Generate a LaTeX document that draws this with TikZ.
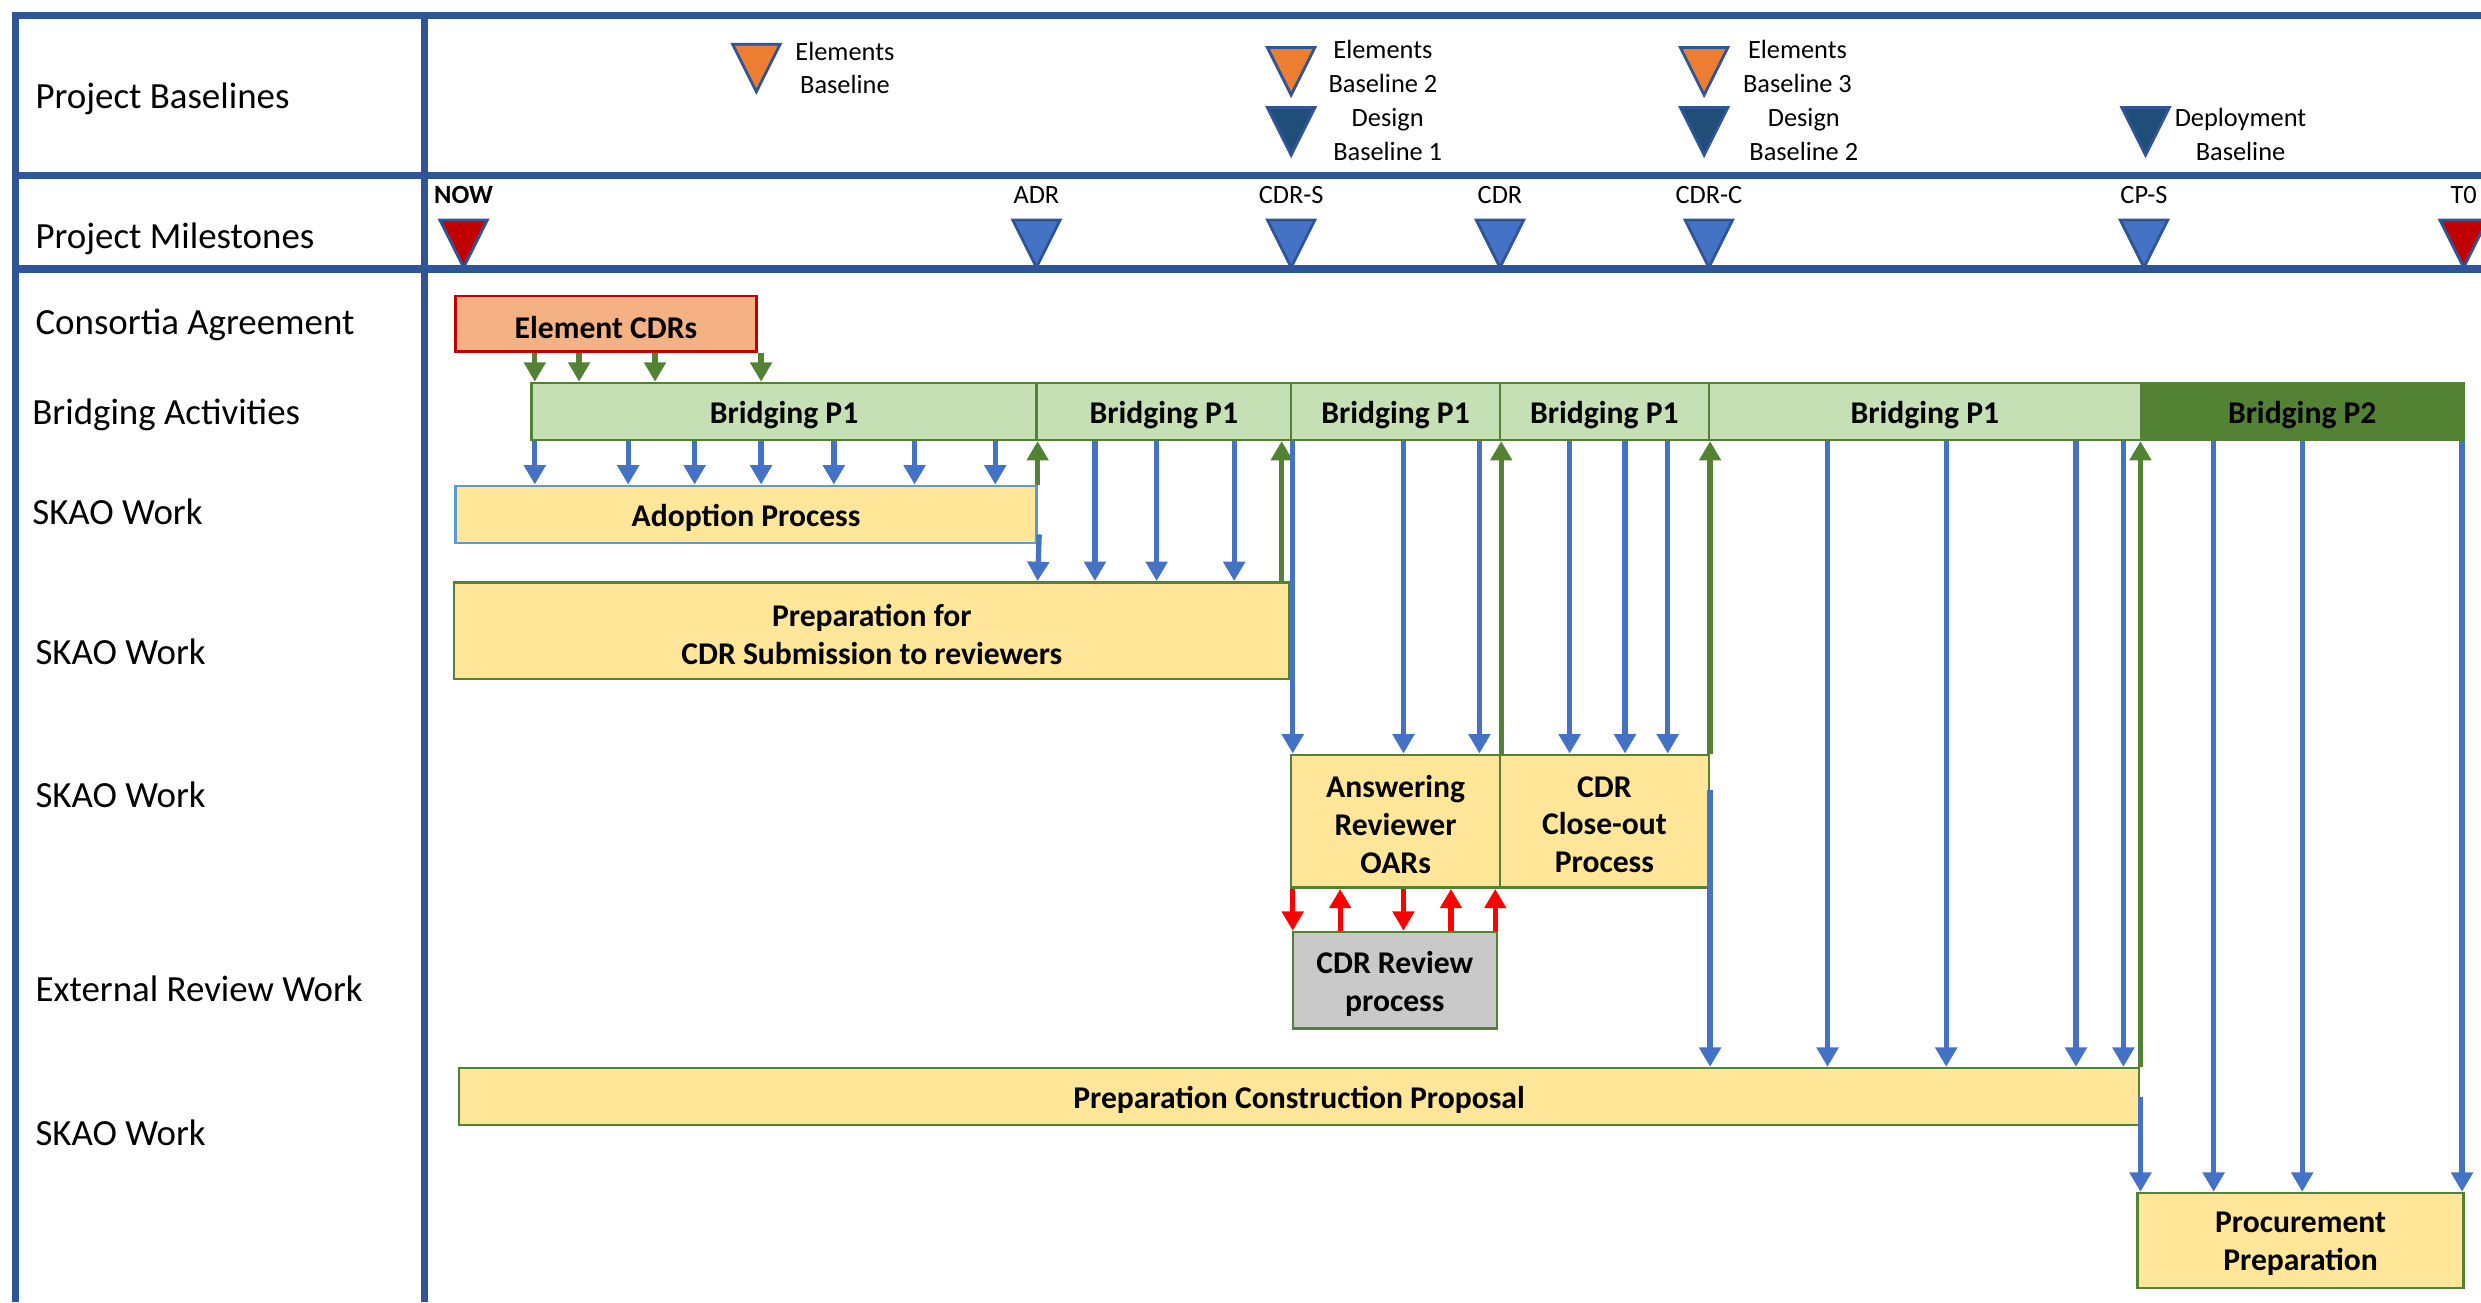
\documentclass[tikz,border=0pt]{standalone}
\usepackage{fontspec}
\setmainfont{Carlito}
\usetikzlibrary{arrows.meta, calc, fit}
\definecolor{gridblue}{HTML}{2F5597}
\definecolor{ecdrfill}{HTML}{F4B183}
\definecolor{ecdrline}{HTML}{C00000}
\definecolor{lgreen}{HTML}{C5E0B4}
\definecolor{dgreen}{HTML}{548235}
\definecolor{boxyel}{HTML}{FFE699}
\definecolor{boxgray}{HTML}{C9C9C9}
\definecolor{adoptline}{HTML}{5B9BD5}
\definecolor{arrblue}{HTML}{4472C4}
\definecolor{arrred}{HTML}{FF0000}
\definecolor{blorange}{HTML}{ED7D31}
\definecolor{bldark}{HTML}{1F4E79}
\definecolor{msred}{HTML}{C00000}
\definecolor{msblue}{HTML}{4472C4}
\tikzset{gridline/.style={gridblue, line width=2pt}}
\tikzset{rowlabel/.style={anchor=west, inner sep=0pt, yshift=-1pt, font=\fontsize{10.5}{12}\selectfont}}
\tikzset{smalltext/.style={inner sep=0pt, align=center, font=\fontsize{7.5}{9.5}\selectfont}}
\tikzset{boxtext/.style={inner sep=0pt, align=center, yshift=-1pt, font=\fontsize{9}{10.8}\selectfont\bfseries}}
\tikzset{box/.style={inner sep=0pt, line width=0.7pt}}
\tikzset{ybox/.style={box, draw=dgreen, fill=boxyel}}
\tikzset{gbox/.style={box, draw=dgreen, fill=lgreen}}
\tikzset{marker/.style={draw=gridblue, line width=0.8pt}}
\tikzset{barr/.style={arrblue, line width=1.5pt, -{Triangle[width=6pt,length=5.5pt]}}}
\tikzset{garr/.style={dgreen, line width=1.5pt, -{Triangle[width=6pt,length=5.5pt]}}}
\tikzset{rarr/.style={arrred, line width=1.5pt, -{Triangle[width=6pt,length=5.5pt]}}}

\begin{document}
\begin{tikzpicture}[x=0.01582cm, y=-0.01582cm]
    \useasboundingbox (0,0) rectangle (1568,823);
    %Grid
    \draw[gridline] (10,823) -- (10,10) -- (1575,10);
    \draw[gridline] (10,111) -- (1575,111);
    \draw[gridline] (10,170) -- (1575,170);
    \draw[gridline] (268,10) -- (268,823);
    %Row labels
    \node[rowlabel] (lb-base) at (22,60) {Project Baselines};
    \node[rowlabel] (lb-mile) at (22,149) {Project Milestones};
    \node[rowlabel] (lb-cons) at (22,203) {Consortia Agreement};
    \node[rowlabel] (lb-brid) at (20,260) {Bridging Activities};
    \node[rowlabel] (lb-skao1) at (20,321) {SKAO Work};
    \node[rowlabel] (lb-skao2) at (22,410) {SKAO Work};
    \node[rowlabel] (lb-skao3) at (22,500) {SKAO Work};
    \node[rowlabel] (lb-ext) at (22,623) {External Review Work};
    \node[rowlabel] (lb-skao4) at (22,714) {SKAO Work};
    %Baselines
    \foreach \x/\y/\col in {478/28/blorange, 816/30/blorange, 1077/30/blorange, 816/68/bldark, 1077/68/bldark, 1356/68/bldark}
      \filldraw[marker, fill=\col] (\x-15,\y) -- (\x+15,\y) -- (\x,\y+30) -- cycle;
    \node[smalltext] (bl-el1) at (534,43) {Elements\\Baseline};
    \node[smalltext] (bl-el2) at (874,42) {Elements\\Baseline 2};
    \node[smalltext] (bl-de1) at (877,85) {Design\\Baseline 1};
    \node[smalltext] (bl-el3) at (1136,42) {Elements\\Baseline 3};
    \node[smalltext] (bl-de2) at (1140,85) {Design\\Baseline 2};
    \node[smalltext] (bl-dep) at (1416,85) {Deployment\\Baseline};
    %Milestones
    \foreach \x/\nm/\lab/\col in {293/now/{\bfseries NOW}/msred, 655/adr/ADR/msblue, 816/cdrs/CDR-S/msblue, 948/cdr/CDR/msblue, 1080/cdrc/CDR-C/msblue, 1355/cps/CP-S/msblue, 1557/t0/T0/msred}
    {
      \filldraw[marker, fill=\col] (\x-15,139) -- (\x+15,139) -- (\x,169) -- cycle;
      \node[smalltext] (ms-\nm) at (\x,123) {\lab};
    }
    %Activities
    \node[box, draw=ecdrline, fill=ecdrfill, fit={(288,187) (478,222)}, label={[boxtext]center:Element CDRs}] (ecdr) {};
    \node[gbox, fit={(336,242) (655,278)}, label={[boxtext]center:Bridging P1}] (bp1a) {};
    \node[gbox, fit={(655,242) (816,278)}, label={[boxtext]center:Bridging P1}] (bp1b) {};
    \node[gbox, fit={(816,242) (948,278)}, label={[boxtext]center:Bridging P1}] (bp1c) {};
    \node[gbox, fit={(948,242) (1080,278)}, label={[boxtext]center:Bridging P1}] (bp1d) {};
    \node[gbox, fit={(1080,242) (1353,278)}, label={[boxtext]center:Bridging P1}] (bp1e) {};
    \node[box, draw=dgreen, fill=dgreen, fit={(1353,242) (1557,278)}, label={[boxtext]center:Bridging P2}] (bp2) {};
    \node[box, draw=adoptline, fill=boxyel, fit={(288,307) (655,343)}, label={[boxtext]center:Adoption Process}] (adopt) {};
    \node[ybox, fit={(287,368) (815,429)}, label={[boxtext]center:{Preparation for\\CDR Submission to reviewers}}] (prepcdr) {};
    \node[ybox, fit={(816,477) (948,561)}, label={[boxtext]center:{Answering\\Reviewer\\OARs}}] (answer) {};
    \node[ybox, fit={(948,477) (1080,561)}, label={[boxtext]center:{CDR\\Close-out\\Process}}] (closeout) {};
    \node[box, draw=dgreen, fill=boxgray, fit={(817,589) (946,650)}, label={[boxtext]center:{CDR Review\\process}}] (review) {};
    \node[ybox, fit={(290,675) (1352,711)}, label={[boxtext]center:Preparation Construction Proposal}] (prepcp) {};
    \node[ybox, fit={(1351,754) (1557,814)}, label={[boxtext]center:{Procurement\\Preparation}}] (procure) {};
    %Flows
    \foreach \x in {338,366,414,481}
      \draw[garr] (\x,0 |- ecdr.south) -- (\x,0 |- bp1a.north);
    \foreach \x in {338,397,439,481,527,578,629}
      \draw[barr] (\x,0 |- bp1a.south) -- (\x,0 |- adopt.north);
    \draw[garr] (adopt.north east) -- (bp1a.south east);
    \draw[barr] ($(adopt.south east)+(1,-6)$) -- (prepcdr.north -| adopt.east);
    \foreach \x in {692,731,780}
      \draw[barr] (\x,0 |- bp1b.south) -- (\x,0 |- prepcdr.north);
    \draw[garr] (810,0 |- prepcdr.north) -- (810,0 |- bp1b.south);
    \foreach \x in {817,887,935}
      \draw[barr] (\x,0 |- bp1c.south) -- (\x,0 |- answer.north);
    \draw[garr] (answer.north east) -- (answer.north east |- bp1c.south);
    \foreach \x in {992,1027,1054}
      \draw[barr] (\x,0 |- bp1d.south) -- (\x,0 |- closeout.north);
    \draw[garr] (closeout.north east) -- (closeout.north east |- bp1d.south);
    \draw[barr] ($(closeout.north east)+(0,23)$) -- (prepcp.north -| closeout.east);
    \foreach \x in {1155,1230,1312,1342}
      \draw[barr] (\x,0 |- bp1e.south) -- (\x,0 |- prepcp.north);
    \draw[garr] (prepcp.north east) -- (prepcp.north east |- bp1e.south);
    \draw[barr] (prepcp.east) -- (prepcp.east |- procure.north);
    \foreach \x in {1399,1455,1556}
      \draw[barr] (\x,0 |- bp2.south) -- (\x,0 |- procure.north);
    %Review loop
    \foreach \x in {817,887}
      \draw[rarr] (\x,0 |- answer.south) -- (\x,0 |- review.north);
    \foreach \x in {847,917,945}
      \draw[rarr] (\x,0 |- review.north) -- (\x,0 |- answer.south);
\end{tikzpicture}
\end{document}
